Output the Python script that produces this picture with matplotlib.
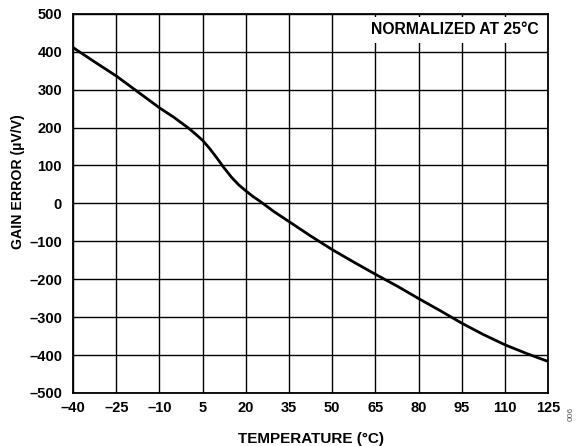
import matplotlib.pyplot as plt

plt.rcParams['font.family'] = ['Liberation Sans', 'DejaVu Sans']
plt.rcParams['font.weight'] = 'bold'

# gain error vs temperature, normalized at 25 C
temperature = [-40, -32.5, -25, -17.5, -10, -5, -2.5, 0, 2.5, 5, 7.5, 10, 12.5, 15,
               17.5, 20, 22.5, 25, 30, 35, 42.5, 50, 57.5, 65, 72.5, 80, 87.5, 95,
               102.5, 110, 117.5, 125]
gain_error = [411, 373, 336, 294, 252, 227, 213, 199, 183, 166, 144, 119, 93, 69,
              49, 33, 18, 5, -23, -48, -86, -122, -155, -187, -218, -251, -283, -316,
              -346, -373, -396, -417]

x_ticks = [-40, -25, -10, 5, 20, 35, 50, 65, 80, 95, 110, 125]
x_labels = ['–40', '–25', '–10', '5', '20', '35', '50', '65', '80', '95', '110', '125']
y_ticks = [-500, -400, -300, -200, -100, 0, 100, 200, 300, 400, 500]
y_labels = ['–500', '–400', '–300', '–200', '–100', '0', '100', '200', '300', '400', '500']

fig = plt.figure(figsize=(5.85, 4.46), dpi=100)
ax = fig.add_axes([0.125, 0.119, 0.812, 0.850])

ax.plot(temperature, gain_error, color='black', linewidth=2.0, solid_capstyle='butt', zorder=3)

ax.set_xlim(-40, 125)
ax.set_ylim(-500, 500)
ax.set_xticks(x_ticks)
ax.set_xticklabels(x_labels)
ax.set_yticks(y_ticks)
ax.set_yticklabels(y_labels)
ax.tick_params(axis='both', length=0, labelsize=10.5)
ax.tick_params(axis='y', pad=8)
ax.tick_params(axis='x', pad=6)
for lbl in ax.get_xticklabels() + ax.get_yticklabels():
    lbl.set_fontweight('bold')

ax.grid(True, color='black', linewidth=1.0)
ax.set_axisbelow(True)
for spine in ax.spines.values():
    spine.set_linewidth(1.3)

ax.set_xlabel('TEMPERATURE (°C)', fontsize=11, fontweight='bold', labelpad=12)
ax.set_ylabel('GAIN ERROR (µV/V)', fontsize=10.2, fontweight='bold')
ax.yaxis.set_label_coords(-0.102, 0.557)

ax.text(0.98, 0.958, 'NORMALIZED AT 25°C', transform=ax.transAxes, ha='right', va='center',
        fontsize=11.3, fontweight='bold', zorder=4,
        bbox=dict(facecolor='white', edgecolor='none', pad=4))

fig.text(0.976, 0.072, '006', rotation=90, fontsize=6, color='#555555',
         fontweight='normal', ha='center', va='center')

fig.savefig('out.png', dpi=100)
